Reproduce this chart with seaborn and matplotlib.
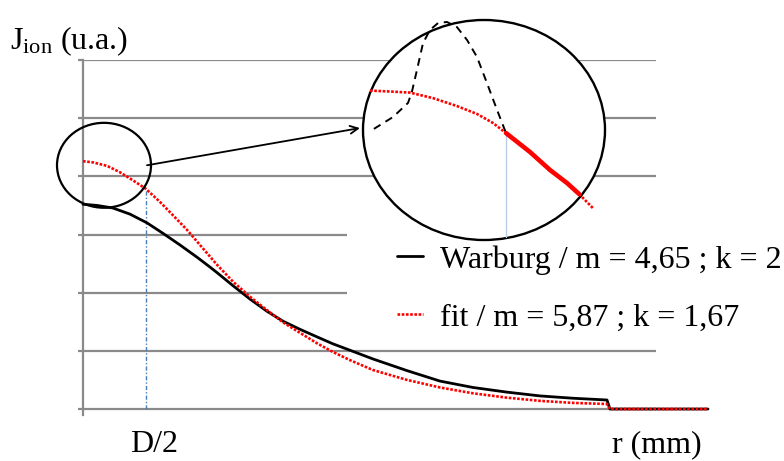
import numpy as np
import pandas as pd
import matplotlib
matplotlib.use("Agg")
import matplotlib.pyplot as plt
from matplotlib.patches import Ellipse
from matplotlib.lines import Line2D
import seaborn as sns

# ---------------- data ----------------
# radial position (arbitrary r units, D/2 at r = 1) and ion current (grid units)
r_warburg = [0.0, 0.224, 0.48, 0.752, 1.024, 1.28, 1.552, 1.824, 2.032, 2.144, 2.40,
             2.672, 2.944, 3.20, 3.472, 3.744, 4.00, 4.272, 4.64, 5.184, 5.712, 6.24,
             6.784, 7.312, 7.84, 8.384, 8.43, 10.0]
j_warburg = [3.52, 3.50, 3.455, 3.35, 3.20, 3.02, 2.82, 2.61, 2.44, 2.345, 2.12,
             1.89, 1.68, 1.51, 1.37, 1.24, 1.12, 1.01, 0.86, 0.66, 0.48, 0.37,
             0.29, 0.225, 0.185, 0.155, 0.0, 0.0]

r_fit = [0.0, 0.16, 0.384, 0.592, 0.80, 1.00, 1.232, 1.44, 1.664, 1.872, 2.144, 2.40,
         2.672, 2.944, 3.20, 3.472, 3.744, 4.00, 4.272, 4.64, 5.184, 5.712, 6.24,
         6.784, 7.312, 7.84, 8.384, 8.43, 10.0]
j_fit = [4.26, 4.24, 4.18, 4.07, 3.93, 3.79, 3.56, 3.33, 3.08, 2.82, 2.48, 2.19,
         1.93, 1.70, 1.49, 1.31, 1.13, 0.98, 0.84, 0.67, 0.50, 0.37, 0.27,
         0.195, 0.14, 0.105, 0.086, 0.0, 0.0]

r_half = 1.0          # D/2
grid_levels = [0, 1, 2, 3, 4, 5, 6]
short_levels = [2, 3]  # grid lines stopping before the legend

label_warburg = "Warburg / m = 4,65 ; k = 2"
label_fit = "fit / m = 5,87 ; k = 1,67"

# magnified view (local zoom units 0..10)
zx_fit = [0.29, 1.12, 1.94, 2.89, 3.88, 4.71, 5.37, 5.91]
zy_fit = [6.79, 6.75, 6.70, 6.45, 6.09, 5.73, 5.32, 4.86]
zx_fit_hi = [5.91, 6.90, 7.73, 8.43, 8.93]
zy_fit_hi = [4.86, 4.00, 3.18, 2.59, 2.09]
zx_fit_tail = [8.93, 9.50]
zy_fit_tail = [2.09, 1.45]
zx_peak = [0.45, 1.24, 1.86, 2.02, 2.23, 2.48, 2.77, 3.10, 3.47, 3.88, 4.30, 4.71, 5.12, 5.54, 5.91]
zy_peak = [5.05, 5.59, 6.23, 6.73, 7.73, 8.95, 9.55, 9.86, 9.91, 9.68, 9.09, 8.32, 7.14, 5.91, 4.86]
zx_half = [5.91, 5.91]
zy_half = [4.86, 0.0]

# ---------------- style ----------------
sns.set_theme(style="white")
plt.rcParams["font.family"] = ["Liberation Serif", "DejaVu Serif"]
plt.rcParams["mathtext.fontset"] = "custom"
plt.rcParams["mathtext.rm"] = "Liberation Serif"
plt.rcParams["mathtext.it"] = "Liberation Serif:italic"
plt.rcParams["text.color"] = "black"

W, H = 784, 461
FS = 23
fig = plt.figure(figsize=(W / 100, H / 100), dpi=100)
fig.patch.set_facecolor("white")

def fx(px):
    return px / W

def fy(py):
    return 1 - py / H

GREY = "#8a8a8a"
RED = "#ff0000"
RED_DOTS = (0, (1, 0.6))

# main axes: r from 0 (x=83px) to 10 (x=708px), J from -0.103 to 6
ax = fig.add_axes([fx(83), fy(415), (708 - 83) / W, (415 - 60) / H])
ax.set_xlim(0, 10)
ax.set_ylim(-0.103, 6)
ax.set_facecolor("none")
for s in ["top", "right", "bottom"]:
    ax.spines[s].set_visible(False)
ax.spines["left"].set_color(GREY)
ax.spines["left"].set_linewidth(1.6)
ax.set_xticks([])
ax.set_yticks(grid_levels)
ax.set_yticklabels([])
ax.tick_params(axis="y", length=3.6, width=1.6, color=GREY, direction="out", left=True)

for lv in grid_levels:
    xend = 4.22 if lv in short_levels else 9.17
    ax.hlines(lv, 0, xend, color=GREY, lw=1.6, zorder=1)

df_w = pd.DataFrame({"r": r_warburg, "J": j_warburg})
df_f = pd.DataFrame({"r": r_fit, "J": j_fit})
sns.lineplot(data=df_w, x="r", y="J", ax=ax, color="black", lw=2.0,
             estimator=None, sort=False, zorder=3)
sns.lineplot(data=df_f, x="r", y="J", ax=ax, color=RED, lw=1.9,
             linestyle=RED_DOTS, estimator=None, sort=False, zorder=4)
for ln in ax.lines:
    ln.set_clip_on(False)
    ln.set_solid_joinstyle("round")
ax.set_xlabel("")
ax.set_ylabel("")

# D/2 marker line
j_at_half = j_fit[r_fit.index(r_half)]
ax.plot([r_half, r_half], [0, j_at_half], color="#4a7ebb", lw=1.0,
        linestyle=(0, (3, 1.5, 1, 1.5)), zorder=2)

# small circle around the plateau and arrow to the magnified view
ax.add_patch(Ellipse((0.336, 4.19), 1.504, 1.46, fill=False, edgecolor="black",
                     lw=1.6, clip_on=False, zorder=5))
ax.annotate("", xy=(4.43, 4.83), xytext=(1.024, 4.19),
            arrowprops=dict(arrowstyle="->", color="black", lw=1.3,
                            mutation_scale=14, shrinkA=0, shrinkB=0),
            zorder=5)

# legend
handles = [Line2D([], [], color="black", lw=2.0),
           Line2D([], [], color=RED, lw=1.9, linestyle=RED_DOTS)]
ax.legend(handles, [label_warburg, label_fit], loc="upper left",
          bbox_to_anchor=(fx(397), fy(245)), bbox_transform=fig.transFigure,
          frameon=False, fontsize=FS, borderpad=0, borderaxespad=0,
          handlelength=0.81, handletextpad=0.53, labelspacing=0.9,
          labelcolor="black")

# magnified view
axz = fig.add_axes([fx(363), fy(240), (605 - 363) / W, (240 - 20) / H], zorder=10)
axz.set_xlim(0, 10)
axz.set_ylim(0, 10)
axz.axis("off")
circ = Ellipse((5, 5), 10, 10, facecolor="white", edgecolor="black", lw=1.7,
               clip_on=False, zorder=1)
axz.add_patch(circ)

blue_half, = axz.plot(zx_half, zy_half, color="#b7cde8", lw=1.0, zorder=2)
blue_half.set_clip_path(circ)
sns.lineplot(x=zx_peak, y=zy_peak, ax=axz, color="black", lw=1.4,
             linestyle=(0, (4, 3)), estimator=None, sort=False, zorder=3)
sns.lineplot(x=zx_fit, y=zy_fit, ax=axz, color=RED, lw=1.9,
             linestyle=RED_DOTS, estimator=None, sort=False, zorder=4)
sns.lineplot(x=zx_fit_hi, y=zy_fit_hi, ax=axz, color=RED, lw=3.3,
             estimator=None, sort=False, zorder=4)
sns.lineplot(x=zx_fit_tail, y=zy_fit_tail, ax=axz, color=RED, lw=1.9,
             linestyle=RED_DOTS, estimator=None, sort=False, zorder=4)
for ln in axz.lines:
    if ln is not blue_half:
        ln.set_clip_on(False)

# axis captions
fig.text(fx(10), fy(49), r"J$_{\rm ion}$ (u.a.)", fontsize=FS, ha="left",
         va="baseline", color="black")
fig.text(fx(130), fy(452), "D/2", fontsize=FS, ha="left", va="baseline", color="black")
fig.text(fx(612), fy(452), "r (mm)", fontsize=FS, ha="left", va="baseline", color="black")

fig.savefig("out.png", dpi=100, facecolor="white")
